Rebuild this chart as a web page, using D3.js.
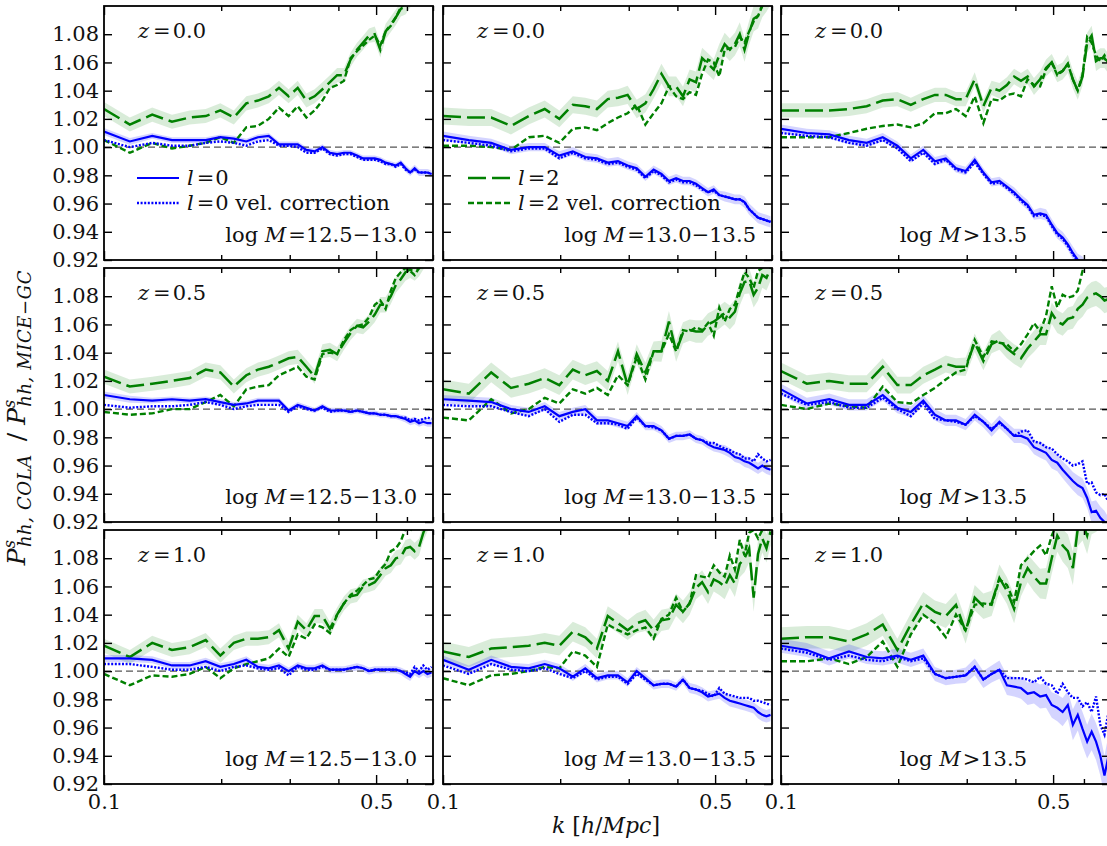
<!DOCTYPE html>
<html>
<head>
<meta charset="utf-8">
<script src="https://cdn.jsdelivr.net/npm/d3@7"></script>
<style>
  body { margin: 0; background: white; }
  svg { display: block; font-family: "DejaVu Serif", serif; }
</style>
</head>
<body>
<svg id="main"></svg>
<script>
// k bins [h/Mpc]
const k = [0.1, 0.1165, 0.133, 0.1495, 0.166, 0.1825, 0.199, 0.2155, 0.232, 0.2485, 0.265, 0.2815, 0.298,
  0.3145, 0.331, 0.3475, 0.364, 0.3805, 0.397, 0.4135, 0.43, 0.4465, 0.463, 0.4795, 0.496, 0.5125, 0.529,
  0.5455, 0.562, 0.5785, 0.595, 0.6115, 0.628, 0.6445, 0.661, 0.6775, 0.694]

const redshifts = ["0.0", "0.5", "1.0"]
const massBins = ["=12.5\u221213.0", "=13.0\u221213.5", ">13.5"]
const yTicks = [0.92, 0.94, 0.96, 0.98, 1.00, 1.02, 1.04, 1.06, 1.08]
const xMajor = [0.1, 0.5]
const xMinor = [0.2, 0.3, 0.4, 0.6, 0.7]

// panels in reading order: (z=0.0: M1, M2, M3), (z=0.5: ...), (z=1.0: ...)
const monoCOLA = [
  [1.011,1.004,1.008,1.005,1.005,1.005,1.007,1.006,1.004,1.007,1.008,1.002,1.002,1.002,0.998,0.997,1.000,0.996,0.995,0.996,0.996,0.994,0.992,0.992,0.992,0.991,0.989,0.988,0.987,0.989,0.985,0.982,0.985,0.982,0.982,0.982,0.981],
  [1.008,1.005,1.003,0.998,1.000,1.000,0.994,0.997,0.993,0.992,0.989,0.990,0.987,0.985,0.979,0.984,0.981,0.976,0.978,0.976,0.976,0.974,0.971,0.968,0.970,0.966,0.965,0.964,0.963,0.963,0.961,0.956,0.953,0.950,0.949,0.948,0.947],
  [1.013,1.010,1.009,1.005,1.003,1.007,1.001,0.992,0.998,0.990,0.992,0.985,0.983,0.991,0.982,0.975,0.976,0.972,0.968,0.963,0.959,0.952,0.953,0.952,0.945,0.939,0.936,0.931,0.925,0.920,0.918,0.912,0.905,0.900,0.895,0.890,0.885],
  [1.010,1.007,1.006,1.007,1.006,1.007,1.005,1.003,1.004,1.006,1.006,1.006,0.999,1.003,1.001,0.999,1.002,0.999,0.999,0.999,0.998,0.999,0.998,0.997,0.997,0.996,0.996,0.995,0.995,0.994,0.993,0.991,0.992,0.990,0.991,0.990,0.990],
  [1.007,1.006,1.005,1.000,0.998,1.002,0.995,0.998,1.000,0.992,0.992,0.990,0.988,0.995,0.988,0.988,0.985,0.979,0.981,0.981,0.982,0.979,0.978,0.975,0.973,0.972,0.971,0.969,0.966,0.965,0.963,0.962,0.960,0.958,0.960,0.958,0.957],
  [1.014,1.004,1.007,1.003,1.003,1.010,1.001,0.998,1.006,0.996,0.992,0.992,0.989,0.996,0.991,0.985,0.991,0.986,0.981,0.981,0.979,0.973,0.971,0.969,0.964,0.962,0.957,0.953,0.949,0.946,0.944,0.937,0.927,0.928,0.923,0.920,0.915],
  [1.009,1.009,1.008,1.004,1.004,1.007,1.003,1.005,1.008,1.003,1.002,1.004,1.000,1.004,1.002,1.002,1.004,1.001,1.001,1.001,1.002,1.003,1.002,1.000,1.001,1.001,1.001,1.001,1.001,1.000,0.998,0.996,1.000,0.998,1.000,0.998,0.999],
  [1.008,1.001,1.008,1.003,1.002,1.005,1.002,0.996,1.002,0.995,0.997,0.997,0.992,1.000,0.995,0.990,0.991,0.991,0.989,0.994,0.988,0.987,0.985,0.982,0.983,0.984,0.981,0.979,0.978,0.977,0.976,0.975,0.974,0.971,0.969,0.968,0.969],
  [1.018,1.015,1.009,1.014,1.010,1.009,1.011,1.008,1.011,0.998,0.995,0.996,0.997,1.003,0.994,0.998,1.001,0.990,0.989,0.988,0.984,0.985,0.982,0.983,0.976,0.974,0.971,0.976,0.962,0.969,0.959,0.950,0.957,0.950,0.940,0.926,0.940]
]
const monoVel = [
  [1.005,1.000,1.003,1.001,1.001,1.003,1.004,1.003,1.001,1.004,1.005,1.001,1.001,1.000,0.996,0.996,0.999,0.995,0.994,0.995,0.995,0.993,0.991,0.991,0.991,0.990,0.988,0.988,0.986,0.988,0.984,0.982,0.984,0.982,0.982,0.982,0.981],
  [1.005,1.003,1.001,0.997,0.999,0.999,0.992,0.996,0.992,0.991,0.988,0.989,0.986,0.984,0.978,0.983,0.980,0.975,0.977,0.975,0.975,0.973,0.970,0.968,0.969,0.966,0.965,0.964,0.963,0.963,0.961,0.956,0.953,0.950,0.949,0.948,0.947],
  [1.010,1.008,1.007,1.003,1.001,1.005,0.999,0.990,0.996,0.988,0.991,0.984,0.982,0.989,0.981,0.974,0.975,0.971,0.967,0.962,0.958,0.951,0.952,0.951,0.944,0.938,0.935,0.930,0.924,0.919,0.917,0.911,0.904,0.899,0.894,0.889,0.884],
  [1.003,1.001,1.002,1.002,1.003,1.005,1.003,1.000,1.002,1.003,1.003,1.003,0.998,1.002,1.000,0.999,1.001,0.998,0.999,0.999,0.998,0.999,0.998,0.997,0.997,0.996,0.996,0.995,0.995,0.994,0.994,0.992,0.993,0.992,0.993,0.994,0.993],
  [1.003,1.002,1.002,0.998,0.995,1.000,0.991,0.996,0.996,0.990,0.990,0.989,0.986,0.994,0.988,0.987,0.985,0.979,0.981,0.981,0.982,0.979,0.978,0.976,0.976,0.974,0.972,0.971,0.969,0.968,0.965,0.965,0.963,0.968,0.965,0.963,0.964],
  [1.011,1.003,1.005,1.001,1.001,1.008,1.000,0.995,1.004,0.993,0.992,0.991,0.989,0.995,0.991,0.986,0.990,0.986,0.981,0.984,0.985,0.977,0.976,0.973,0.972,0.968,0.965,0.963,0.960,0.961,0.963,0.947,0.948,0.941,0.939,0.940,0.934],
  [1.005,1.005,1.003,1.001,1.001,1.003,1.000,1.003,1.004,1.002,1.001,1.002,0.997,1.003,1.001,1.001,1.003,1.001,1.001,1.001,1.002,1.003,1.002,1.000,1.001,1.001,1.001,1.001,1.001,1.000,0.999,0.998,1.003,1.000,1.004,1.001,1.003],
  [1.004,0.998,1.005,1.001,1.000,1.002,0.998,0.995,1.000,0.994,0.996,0.996,0.991,0.998,0.994,0.990,0.991,0.991,0.989,0.994,0.988,0.987,0.986,0.984,0.982,0.988,0.984,0.983,0.982,0.981,0.981,0.981,0.979,0.979,0.978,0.977,0.976],
  [1.016,1.013,1.008,1.011,1.008,1.007,1.010,1.007,1.009,0.998,0.995,0.996,0.997,1.003,0.994,0.998,1.001,0.995,0.995,0.995,0.994,0.992,0.996,0.991,0.990,0.984,0.991,0.985,0.981,0.981,0.975,0.978,0.971,0.982,0.962,0.955,0.971]
]
const quadCOLA = [
  [1.027,1.016,1.023,1.018,1.021,1.022,1.026,1.021,1.031,1.033,1.036,1.042,1.036,1.042,1.033,1.036,1.041,1.046,1.051,1.051,1.062,1.069,1.074,1.079,1.080,1.069,1.082,1.087,1.092,1.098,1.100,1.105,1.110,1.112,1.115,1.118,1.120],
  [1.022,1.021,1.021,1.015,1.022,1.027,1.020,1.030,1.029,1.027,1.034,1.035,1.037,1.027,1.031,1.041,1.052,1.043,1.043,1.036,1.048,1.046,1.063,1.059,1.055,1.065,1.073,1.069,1.073,1.080,1.069,1.081,1.091,1.093,1.101,1.105,1.110],
  [1.026,1.026,1.026,1.027,1.029,1.033,1.034,1.030,1.034,1.037,1.037,1.034,1.034,1.048,1.029,1.042,1.040,1.044,1.050,1.047,1.050,1.043,1.048,1.056,1.060,1.052,1.054,1.059,1.048,1.040,1.050,1.074,1.079,1.061,1.063,1.063,1.059],
  [1.023,1.016,1.018,1.020,1.022,1.028,1.026,1.016,1.024,1.028,1.030,1.033,1.036,1.037,1.030,1.023,1.041,1.042,1.039,1.047,1.054,1.059,1.058,1.062,1.067,1.074,1.074,1.080,1.088,1.092,1.097,1.099,1.097,1.100,1.105,1.108,1.110],
  [1.014,1.011,1.026,1.015,1.018,1.022,1.017,1.028,1.024,1.027,1.020,1.041,1.017,1.039,1.026,1.041,1.041,1.062,1.041,1.054,1.056,1.055,1.055,1.060,1.062,1.065,1.068,1.065,1.069,1.082,1.090,1.091,1.081,1.086,1.095,1.093,1.100],
  [1.027,1.018,1.020,1.018,1.018,1.030,1.017,1.017,1.024,1.028,1.032,1.030,1.030,1.047,1.034,1.046,1.049,1.043,1.039,1.036,1.043,1.048,1.053,1.053,1.068,1.062,1.060,1.064,1.065,1.071,1.074,1.079,1.081,1.082,1.080,1.077,1.078],
  [1.018,1.010,1.020,1.015,1.017,1.022,1.011,1.020,1.023,1.023,1.024,1.029,1.016,1.035,1.029,1.039,1.039,1.030,1.040,1.048,1.053,1.054,1.060,1.061,1.063,1.068,1.073,1.075,1.080,1.081,1.087,1.088,1.085,1.088,1.098,1.105,1.110],
  [1.014,1.010,1.016,1.017,1.018,1.020,1.018,1.028,1.024,1.016,1.039,1.034,1.029,1.034,1.036,1.029,1.036,1.037,1.047,1.042,1.048,1.059,1.063,1.056,1.065,1.063,1.060,1.068,1.062,1.076,1.080,1.087,1.052,1.083,1.094,1.087,1.099],
  [1.023,1.024,1.024,1.021,1.026,1.033,1.015,1.033,1.048,1.042,1.039,1.047,1.028,1.052,1.046,1.048,1.066,1.057,1.044,1.063,1.073,1.067,1.062,1.062,1.080,1.096,1.089,1.085,1.073,1.101,1.105,1.096,1.110,1.112,1.115,1.118,1.120]
]
const quadVel = [
  [1.005,0.996,1.003,0.999,1.001,1.003,1.007,1.003,1.014,1.015,1.020,1.028,1.022,1.029,1.021,1.026,1.033,1.042,1.044,1.047,1.063,1.068,1.072,1.076,1.079,1.072,1.082,1.086,1.092,1.099,1.102,1.106,1.110,1.112,1.115,1.118,1.120],
  [1.001,1.001,1.000,0.998,1.007,1.008,1.003,1.013,1.014,1.012,1.017,1.021,1.024,1.030,1.016,1.024,1.031,1.043,1.036,1.034,1.039,1.037,1.052,1.062,1.060,1.050,1.069,1.070,1.071,1.078,1.074,1.082,1.089,1.093,1.100,1.105,1.110],
  [1.007,1.007,1.007,1.010,1.013,1.015,1.016,1.014,1.017,1.024,1.024,1.027,1.022,1.036,1.017,1.034,1.033,1.037,1.038,1.036,1.048,1.044,1.043,1.055,1.060,1.051,1.054,1.059,1.048,1.040,1.051,1.078,1.074,1.065,1.061,1.065,1.059],
  [0.998,0.996,0.997,1.000,1.000,1.005,1.010,1.002,1.014,1.016,1.017,1.024,1.027,1.030,1.023,1.021,1.039,1.040,1.039,1.049,1.056,1.059,1.060,1.065,1.074,1.077,1.071,1.084,1.093,1.097,1.100,1.098,1.095,1.100,1.105,1.108,1.110],
  [0.994,0.992,1.007,0.997,1.000,1.008,1.004,1.014,1.011,1.015,1.010,1.024,1.017,1.037,1.021,1.041,1.041,1.053,1.041,1.056,1.055,1.058,1.056,1.061,1.052,1.072,1.062,1.071,1.074,1.086,1.097,1.093,1.086,1.098,1.100,1.105,1.100],
  [1.003,1.000,1.004,1.002,1.001,1.016,1.005,1.004,1.010,1.015,1.021,1.026,1.028,1.049,1.037,1.048,1.047,1.046,1.041,1.046,1.053,1.061,1.055,1.066,1.087,1.072,1.081,1.079,1.080,1.084,1.098,1.104,1.110,1.112,1.115,1.118,1.120],
  [0.998,0.990,0.997,0.996,0.998,1.003,0.995,1.002,1.005,1.007,1.009,1.016,1.010,1.026,1.023,1.033,1.031,1.027,1.040,1.048,1.054,1.057,1.061,1.065,1.066,1.072,1.076,1.085,1.087,1.092,1.101,1.099,1.105,1.108,1.110,1.112,1.115],
  [0.995,0.990,0.997,0.998,1.000,1.003,1.002,1.014,1.011,1.003,1.033,1.029,1.026,1.029,1.031,1.023,1.037,1.040,1.052,1.042,1.048,1.068,1.067,1.066,1.075,1.070,1.067,1.082,1.072,1.093,1.082,1.098,1.100,1.094,1.100,1.105,1.110],
  [1.007,1.007,1.009,1.005,1.010,1.021,1.003,1.026,1.040,1.034,1.024,1.040,1.029,1.047,1.048,1.047,1.065,1.061,1.049,1.075,1.080,1.085,1.089,1.082,1.096,1.105,1.110,1.112,1.115,1.118,1.120,1.122,1.124,1.126,1.128,1.130,1.132]
]
// half-width of the shaded error bands, in units of 1e-3
const monoErr = [
  [2.5,2.5,2,2,2,2,2,2,2,2,2,2,2,2,2,2,2,2,2,2,2,2,2,2,2,2,2,2,2,2,2.5,2.5,2.5,2.5,2.5,2.5,2.5],
  [3,3,3,3,3,3,3,3,3,3,3,3,3,3,3,3,3,3,3,3,3,3,3,3,3,3,3.5,3.5,3.5,3.5,4,4,4,4,4,4,4],
  [3,3,3,3,3,3,3,3,3,3,3,3,3,3,3,3,3,3,3.5,3.5,3.5,3.5,4,4,4,4,4,4,4.5,4.5,4.5,5,5,5,5,5,5],
  [2.5,2.5,2,2,2,2,2,2,2,2,2,2,2,2,2,2,2,2,2,2,2,2,2,2,2,2,2,2,2,2,2.5,2.5,2.5,2.5,2.5,2.5,2.5],
  [3,3,3,3,3,3,3,3,3,3,3,3,3,3,3,3,3,3,3,3,3,3,3,3,3,3,3.5,3.5,3.5,3.5,4,4,4,4,4,4,4],
  [4,4,4,4,4,4,4,4,4,4,4,4,4,4,4,4.5,4.5,4.5,5,5,5,5,5.5,5.5,6,6,6,6.5,6.5,7,7,7,7.5,7.5,8,8,8],
  [2.5,2.5,2.5,2.5,2.5,2.5,2.5,2.5,2.5,2.5,2.5,2.5,2.5,2.5,2.5,2.5,2.5,2.5,2.5,2.5,2.5,2.5,2.5,2.5,2.5,2.5,2.5,2.5,2.5,2.5,3,3,3,3,3,3,3],
  [3,3,3,3,3,3,3,3,3,3,3,3,3,3,3,3,3,3,3,3,3.5,3.5,3.5,3.5,3.5,3.5,3.5,4,4,4,4,4,4,4.5,4.5,4.5,4.5],
  [5,5,5,5,5,5,5,5,5,5,5,5,5.5,6,6,6,6.5,7,7,7.5,8,8,8.5,9,9,9.5,10,10,11,11,12,12,13,13,14,14,15]
]
const quadErr = [
  [5,5,5,5,5,5,5,5,5,5,5,5,5,5,5,5,5,5,5,5,5,5,5,5,5.5,5.5,5.5,5.5,5.5,5.5,6,6,6,6,6,6,6],
  [6,6,6,6,6,6,6,6,6,6,6,6,6.5,6.5,6.5,6.5,7,7,7,7,7,7.5,7.5,7.5,7.5,8,8,8,8,8.5,8.5,8.5,9,9,9,9,9],
  [5,5,5,5,5,5,5,5,5,5,5,5,5,5,5,5,5.5,5.5,5.5,5.5,5.5,6,6,6,6,6,6,6.5,6.5,6.5,6.5,7,7,7,7,7,7],
  [5,5,5,5,5,5,5,5,5,5,5,5,5,5,5,5,5,5,5,5,5,5,5,5,5.5,5.5,5.5,5.5,5.5,5.5,6,6,6,6,6,6,6],
  [7,7,7,7,7,7,7,7,7,7,7,7,7,7,7,7,7.5,7.5,7.5,7.5,7.5,8,8,8,8,8,8,8.5,8.5,8.5,8.5,9,9,9,9,9,9],
  [6,6,6,6,6,6,6,6,6,6,6,6,6.5,6.5,6.5,6.5,7,7,7,7,7,7.5,7.5,7.5,7.5,8,8,8,8,8.5,8.5,8.5,9,9,9,9,9],
  [5,5,5,5,5,5,5,5,5,5,5,5,5,5,5,5,5,5,5,5,5,5,5,5,5.5,5.5,5.5,5.5,5.5,5.5,6,6,6,6,6,6,6],
  [7,7,7,7,7,7,7,7,7,7,7,7,7,7,7.5,7.5,7.5,7.5,8,8,8,8,8.5,8.5,8.5,9,9,9,9.5,9.5,10,10,10,10,10,10,10],
  [8,8,8,8,8,8,8,8,8,8,8.5,8.5,8.5,9,9,9,9.5,9.5,10,10,10,10.5,10.5,11,11,11.5,11.5,12,12,12.5,12.5,13,13,13.5,13.5,14,14]
]

const width = 1107
const height = 846
const colX = [104, 443, 781]
const rowY = [6, 268, 530]
const pw = 329
const ph = 254
const FS = 21

const BLUE = "#0000ff"
const GREEN = "#008000"
const DOTS = "2,1.6"
const SHORT = "6,3"
const LONG = "18,6"

const svg = d3.select("#main").attr("width", width).attr("height", height)
svg.append("rect").attr("width", width).attr("height", height).attr("fill", "white")

const x = d3.scaleLog().domain([0.1, 0.7]).range([0, pw])
const y = d3.scaleLinear().domain([0.92, 1.10]).range([ph, 0])

const line = d3.line().x((d, j) => x(k[j])).y(d => y(d))
const band = d3.area()
  .x(d => x(d[0]))
  .y0(d => y(d[1] - d[2]))
  .y1(d => y(d[1] + d[2]))

function styleAxis(g) {
  g.select(".domain").remove()
  g.attr("font-family", null).attr("font-size", null)
  g.selectAll("line").attr("stroke", "#000").attr("stroke-width", 1.4)
  g.selectAll("text").attr("fill", "#111").attr("font-size", FS)
}

for (let i = 0; i < 9; i++) {
  const row = Math.floor(i / 3)
  const col = i % 3
  const g = svg.append("g").attr("transform", `translate(${colX[col]},${rowY[row]})`)

  g.append("rect").attr("width", pw).attr("height", ph).attr("fill", "white")

  const clipId = "clip" + i
  g.append("clipPath").attr("id", clipId)
    .append("rect").attr("width", pw).attr("height", ph)
  const plot = g.append("g").attr("clip-path", `url(#${clipId})`)

  plot.append("path")
    .attr("d", band(quadCOLA[i].map((v, j) => [k[j], v, quadErr[i][j] / 1000])))
    .attr("fill", GREEN).attr("fill-opacity", 0.15)
  plot.append("path")
    .attr("d", band(monoCOLA[i].map((v, j) => [k[j], v, monoErr[i][j] / 1000])))
    .attr("fill", BLUE).attr("fill-opacity", 0.17)

  plot.append("line")
    .attr("x1", 0).attr("x2", pw).attr("y1", y(1)).attr("y2", y(1))
    .attr("stroke", "#555").attr("stroke-width", 1.1).attr("stroke-dasharray", "7,4")

  plot.append("path").attr("d", line(quadVel[i]))
    .attr("fill", "none").attr("stroke", GREEN).attr("stroke-width", 2.4)
    .attr("stroke-dasharray", SHORT)
  plot.append("path").attr("d", line(quadCOLA[i]))
    .attr("fill", "none").attr("stroke", GREEN).attr("stroke-width", 2.5)
    .attr("stroke-dasharray", LONG)
  plot.append("path").attr("d", line(monoVel[i]))
    .attr("fill", "none").attr("stroke", BLUE).attr("stroke-width", 2.4)
    .attr("stroke-dasharray", DOTS)
  plot.append("path").attr("d", line(monoCOLA[i]))
    .attr("fill", "none").attr("stroke", BLUE).attr("stroke-width", 2.2)

  // ticks on all four sides, pointing inward
  g.append("g")
    .call(d3.axisLeft(y).tickValues(yTicks).tickSize(-8).tickPadding(5)
      .tickFormat(col === 0 ? d3.format(".2f") : ""))
    .call(styleAxis)
  g.append("g").attr("transform", `translate(${pw},0)`)
    .call(d3.axisRight(y).tickValues(yTicks).tickSize(-8).tickFormat(""))
    .call(styleAxis)
  g.append("g").attr("transform", `translate(0,${ph})`)
    .call(d3.axisBottom(x).tickValues(xMajor).tickSize(-9).tickPadding(10)
      .tickFormat(row === 2 ? d3.format("") : ""))
    .call(styleAxis)
  g.append("g").attr("transform", `translate(0,${ph})`)
    .call(d3.axisBottom(x).tickValues(xMinor).tickSize(-5).tickFormat(""))
    .call(styleAxis)
  g.append("g")
    .call(d3.axisTop(x).tickValues(xMajor).tickSize(-9).tickFormat(""))
    .call(styleAxis)
  g.append("g")
    .call(d3.axisTop(x).tickValues(xMinor).tickSize(-5).tickFormat(""))
    .call(styleAxis)

  g.append("rect").attr("width", pw).attr("height", ph)
    .attr("fill", "none").attr("stroke", "#000").attr("stroke-width", 1.8)

  // redshift label
  const zt = g.append("text").attr("x", 34).attr("y", 32).attr("font-size", FS).attr("fill", "#111")
  zt.append("tspan").attr("font-style", "italic").text("z")
  zt.append("tspan").attr("dx", 4).text("=")
  zt.append("tspan").attr("dx", 2).text(redshifts[row])

  // mass bin label
  const mt = g.append("text").attr("x", col === 2 ? 246 : 313).attr("y", 236)
    .attr("text-anchor", "end").attr("font-size", FS).attr("fill", "#111")
  mt.append("tspan").text("log ")
  mt.append("tspan").attr("font-style", "italic").text("M")
  mt.append("tspan").attr("dx", 2).text(massBins[col])
}

// legends
const legends = [
  { col: 0, x0: 33, entries: [["0", "", BLUE, null, 2.2], ["0", " vel. correction", BLUE, DOTS, 2.4]] },
  { col: 1, x0: 25, entries: [["2", "", GREEN, LONG, 2.5], ["2", " vel. correction", GREEN, SHORT, 2.4]] }
]
legends.forEach(lg => {
  const g = svg.append("g").attr("transform", `translate(${colX[lg.col]},${rowY[0]})`)
  lg.entries.forEach((e, j) => {
    const yy = 172 + j * 25
    g.append("line").attr("x1", lg.x0).attr("x2", lg.x0 + 42).attr("y1", yy).attr("y2", yy)
      .attr("stroke", e[2]).attr("stroke-width", e[4]).attr("stroke-dasharray", e[3])
    const t = g.append("text").attr("x", lg.x0 + 50).attr("y", yy + 7).attr("font-size", FS).attr("fill", "#111")
    t.append("tspan").attr("font-style", "italic").text("l")
    t.append("tspan").attr("dx", 3).text("=")
    t.append("tspan").attr("dx", 1).text(e[0] + e[1])
  })
})

// x label
const xl = svg.append("text").attr("x", 606).attr("y", 833).attr("text-anchor", "middle")
  .attr("font-size", 22).attr("fill", "#111")
xl.append("tspan").attr("font-style", "italic").text("k")
xl.append("tspan").text(" [")
xl.append("tspan").attr("font-style", "italic").text("h")
xl.append("tspan").text("/")
xl.append("tspan").attr("font-style", "italic").text("Mpc")
xl.append("tspan").text("]")

// y label
const yl = svg.append("text").attr("transform", "translate(25,415) rotate(-90)")
  .attr("text-anchor", "middle").attr("font-size", 25).attr("fill", "#111")
function ratioTerm(sub) {
  yl.append("tspan").attr("font-style", "italic").text("P")
  yl.append("tspan").attr("font-style", "italic").attr("font-size", 16).attr("dy", -10).text("s")
  yl.append("tspan").attr("font-style", "italic").attr("font-size", 18).attr("dx", -7).attr("dy", 16)
    .attr("letter-spacing", 0.6).text(sub)
  yl.append("tspan").attr("dy", -6).text("\u2009")
}
ratioTerm("hh, COLA")
yl.append("tspan").text(" / ")
ratioTerm("hh, MICE\u2212GC")
</script>
</body>
</html>
